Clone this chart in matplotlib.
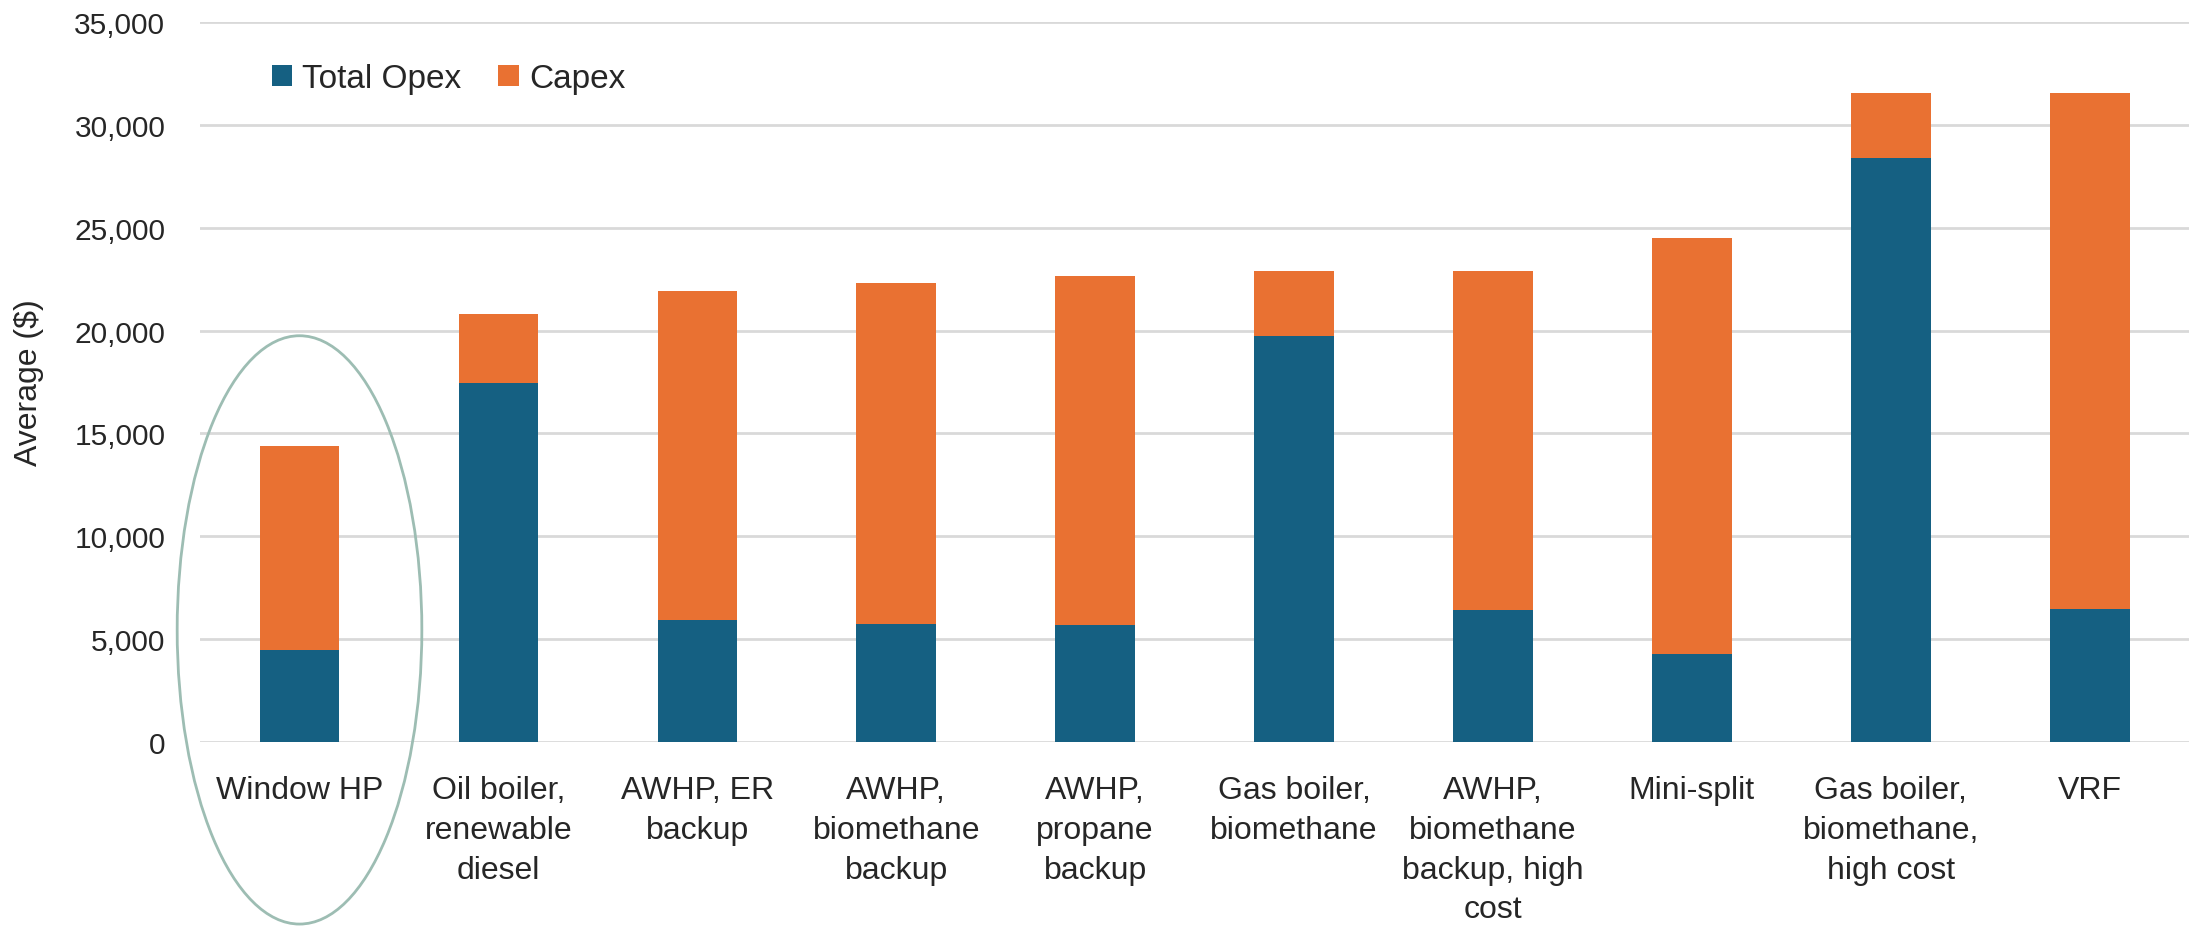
import matplotlib
matplotlib.use("Agg")
import matplotlib.pyplot as plt
import numpy as np
from matplotlib.patches import Ellipse
from matplotlib.ticker import FuncFormatter

plt.rcParams['font.family'] = ['Liberation Sans', 'DejaVu Sans']

systems = ["Window HP", "Oil boiler,\nrenewable\ndiesel", "AWHP, ER\nbackup",
           "AWHP,\nbiomethane\nbackup", "AWHP,\npropane\nbackup", "Gas boiler,\nbiomethane",
           "AWHP,\nbiomethane\nbackup, high\ncost", "Mini-split",
           "Gas boiler,\nbiomethane,\nhigh cost", "VRF"]
opex = [4450, 17450, 5950, 5750, 5700, 19750, 6400, 4300, 28400, 6450]
capex = [9950, 3380, 15970, 16580, 16960, 3140, 16500, 20210, 3130, 25080]
yticks = [0, 5000, 10000, 15000, 20000, 25000, 30000, 35000]

blue = "#156082"
orange = "#E97132"
text_col = "#262626"

fig = plt.figure(figsize=(21.96, 9.29), dpi=100)
ax = fig.add_axes([0.0911, 0.2002, 0.9058, 0.7750])

x = np.arange(len(systems))
ax.bar(x, opex, width=0.4, color=blue, label="Total Opex", zorder=2)
ax.bar(x, capex, width=0.4, bottom=opex, color=orange, label="Capex", zorder=2)

ax.set_xlim(-0.5, len(systems) - 0.5)
ax.set_ylim(0, 35000)
ax.set_yticks(yticks)
ax.yaxis.set_major_formatter(FuncFormatter(lambda v, p: f"{int(v):,}"))
ax.set_xticks(x)
ax.set_xticklabels(systems, fontsize=23, color=text_col, linespacing=1.42, va="top")
ax.tick_params(axis="x", length=0, pad=24)
ax.tick_params(axis="y", length=0, pad=25, labelsize=21.5, labelcolor=text_col)
ax.set_ylabel("Average ($)", fontsize=23, color=text_col, labelpad=22)

ax.yaxis.grid(True, color="#d9d9d9", lw=2)
ax.set_axisbelow(True)
for s in ax.spines.values():
    s.set_visible(False)

# highlight around the first system
ring = Ellipse((0, 5450), width=1.23, height=28600, fill=False,
               edgecolor="#9dbdb3", lw=2, clip_on=False, zorder=3)
ax.add_patch(ring)

ax.legend(loc="center left", bbox_to_anchor=(0.036, 0.921), ncol=2, frameon=False,
          fontsize=24, handlelength=0.62, handleheight=0.62, handletextpad=0.3,
          columnspacing=1.1, borderpad=0, borderaxespad=0, labelcolor=text_col)

fig.savefig("out.png", dpi=100)
